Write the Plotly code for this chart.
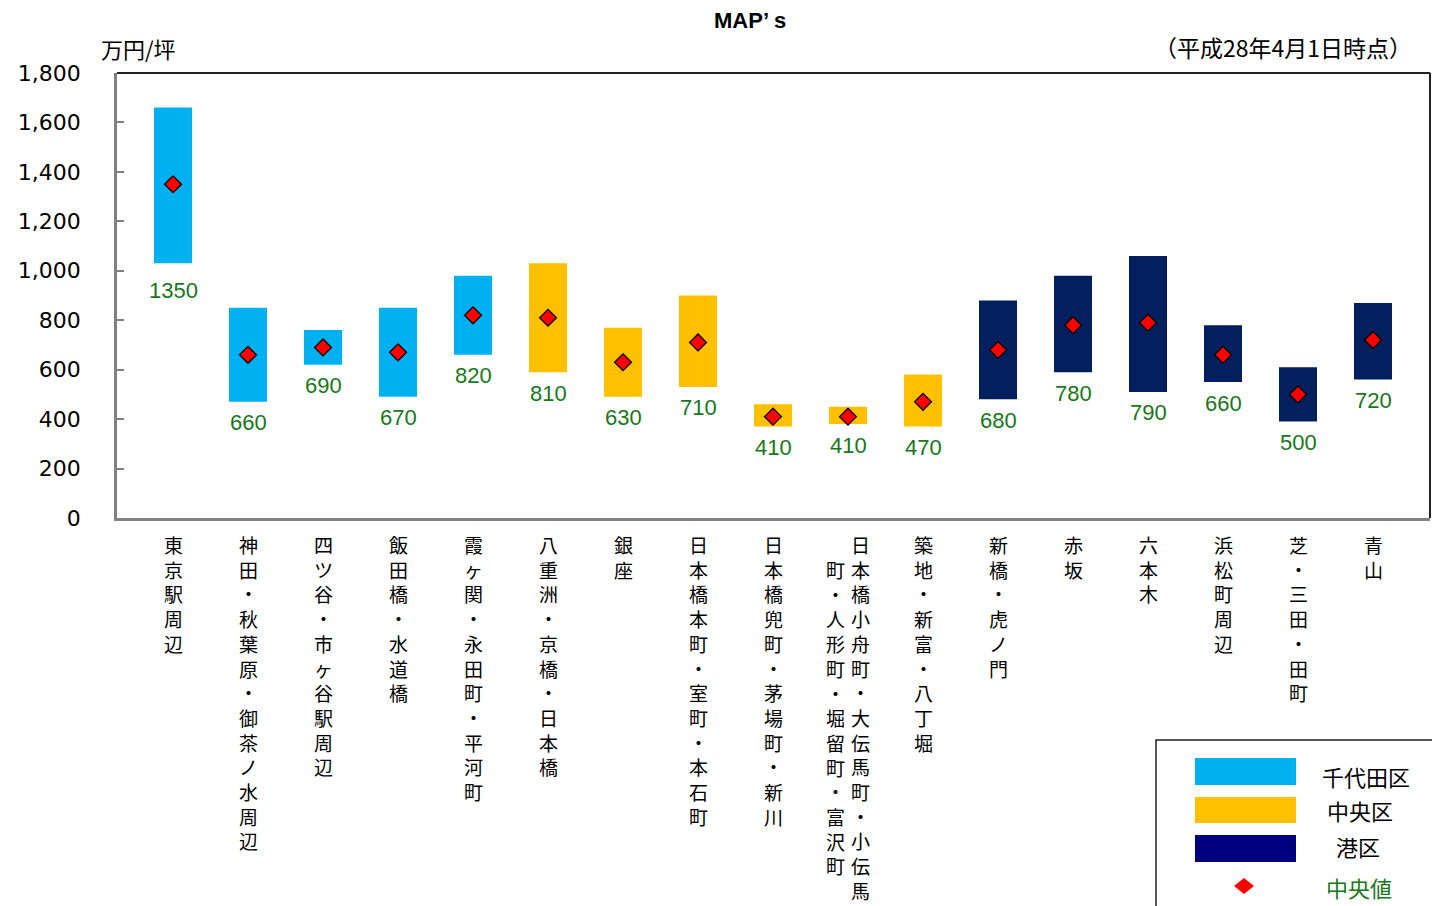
import plotly.graph_objects as go

# ---- data -------------------------------------------------------------
areas = [
    "東京駅周辺", "神田・秋葉原・御茶ノ水周辺", "四ツ谷・市ヶ谷駅周辺", "飯田橋・水道橋",
    "霞ヶ関・永田町・平河町", "八重洲・京橋・日本橋", "銀座", "日本橋本町・室町・本石町",
    "日本橋兜町・茅場町・新川", "日本橋小舟町・大伝馬町・小伝馬町・人形町・堀留町・富沢町",
    "築地・新富・八丁堀", "新橋・虎ノ門", "赤坂", "六本木", "浜松町周辺", "芝・三田・田町", "青山",
]
wards = ["千代田区"] * 5 + ["中央区"] * 6 + ["港区"] * 6
low = [1030, 470, 620, 490, 660, 590, 490, 530, 370, 380, 370, 480, 590, 510, 550, 390, 560]
high = [1660, 850, 760, 850, 980, 1030, 770, 900, 460, 450, 580, 880, 980, 1060, 780, 610, 870]
median = [1350, 660, 690, 670, 820, 810, 630, 710, 410, 410, 470, 680, 780, 790, 660, 500, 720]

ward_names = ["千代田区", "中央区", "港区"]
ward_colors = {"千代田区": "#00B0F0", "中央区": "#FFC000", "港区": "#031F5E"}
legend_colors = {"千代田区": "#00B0F0", "中央区": "#FFC000", "港区": "#000080"}
median_label = "中央値"
y_ticks = list(range(0, 1801, 200))

title_text = "MAP’s"
unit_text = "万円/坪"
date_text = "（平成28年4月1日時点）"

# ---- figure geometry (px) --------------------------------------------
W, H = 1432, 906
L, T, R, B = 117, 73, 2, 388
PW, PH = W - L - R, H - T - B

JP = "Noto Sans CJK JP"
xs = list(range(len(areas)))

fig = go.Figure()

# floating range bars, one trace per ward
for w in ward_names:
    idx = [i for i, ww in enumerate(wards) if ww == w]
    fig.add_trace(go.Bar(
        x=[xs[i] for i in idx],
        y=[high[i] - low[i] for i in idx],
        base=[low[i] for i in idx],
        marker=dict(color=ward_colors[w], line=dict(width=0)),
        width=0.507,
        name=w,
        showlegend=False,
        hoverinfo="skip",
    ))

# median markers
fig.add_trace(go.Scatter(
    x=xs, y=median, mode="markers",
    marker=dict(symbol="diamond", size=13, color="#FF0000",
                line=dict(color="#000000", width=1.3)),
    name=median_label, showlegend=False, hoverinfo="skip",
))

annotations = []

# median value labels under each bar
for i in xs:
    annotations.append(dict(
        x=xs[i], y=low[i], xref="x", yref="y", text=str(median[i]),
        showarrow=False, yanchor="middle", xanchor="center",
        yshift=-27 if i == 0 else -21,
        font=dict(family="Liberation Sans, Arial", size=22, color="#17781A"),
    ))

# vertical category labels (columns right to left, centred vertically when wrapped)
MAX_ROWS = 15
ROW = 24.6
COL = 25
for i, name in enumerate(areas):
    cols = [name[k:k + MAX_ROWS] for k in range(0, len(name), MAX_ROWS)]
    n = len(cols)
    longest = max(len(c) for c in cols)
    for c, chunk in enumerate(cols):
        offset_x = ((n - 1) / 2 - c) * COL
        offset_rows = (longest - len(chunk)) / 2
        annotations.append(dict(
            x=xs[i], y=0, xref="x", yref="paper",
            text="<br>".join(chunk), showarrow=False,
            xanchor="center", yanchor="top",
            xshift=offset_x, yshift=-11 - offset_rows * ROW,
            align="center",
            font=dict(family=JP, size=19, color="#000000"),
        ))

def px_x(p):
    return (p - L) / PW

def px_y(p):
    return (H - B - p) / PH

# title and header texts
annotations.append(dict(x=px_x(750), y=px_y(20), xref="paper", yref="paper",
                        text="<b>" + title_text.replace("’", "’ ") + "</b>", showarrow=False,
                        xanchor="center", yanchor="middle",
                        font=dict(family="Liberation Sans, Arial", size=22, color="#000")))
annotations.append(dict(x=px_x(99), y=px_y(48), xref="paper", yref="paper",
                        text=unit_text, showarrow=False,
                        xanchor="left", yanchor="middle",
                        font=dict(family=JP, size=22, color="#000")))
annotations.append(dict(x=px_x(1414), y=px_y(47), xref="paper", yref="paper",
                        text=date_text, showarrow=False,
                        xanchor="right", yanchor="middle",
                        font=dict(family=JP, size=23, color="#000")))

shapes = []
# top and right frame of the plot area
shapes.append(dict(type="line", xref="paper", yref="paper", x0=0, x1=1, y0=1, y1=1,
                   line=dict(color="#222222", width=2)))
shapes.append(dict(type="line", xref="paper", yref="paper", x0=1, x1=1, y0=0, y1=1,
                   line=dict(color="#222222", width=2)))

# legend box
shapes.append(dict(type="rect", xref="paper", yref="paper",
                   x0=px_x(1156), x1=px_x(1445), y0=px_y(740), y1=px_y(915),
                   line=dict(color="#222222", width=1.5), fillcolor="#FFFFFF"))
sw_rows = [(758, 785, 776), (797, 823, 810), (835, 862, 846)]
text_cx = [1366, 1360, 1358]
for w, (y0, y1, ty), cx in zip(ward_names, sw_rows, text_cx):
    shapes.append(dict(type="rect", xref="paper", yref="paper",
                       x0=px_x(1195), x1=px_x(1296), y0=px_y(y1), y1=px_y(y0),
                       line=dict(width=0), fillcolor=legend_colors[w]))
    annotations.append(dict(x=px_x(cx), y=px_y(ty), xref="paper", yref="paper",
                            text=w, showarrow=False, xanchor="center", yanchor="middle",
                            font=dict(family=JP, size=22, color="#000")))
# legend diamond
dx, dy, r = 1244, 886, 10
path = "M {} {} L {} {} L {} {} L {} {} Z".format(
    px_x(dx), px_y(dy - r + 2), px_x(dx + r), px_y(dy),
    px_x(dx), px_y(dy + r - 2), px_x(dx - r), px_y(dy))
shapes.append(dict(type="path", xref="paper", yref="paper", path=path,
                   fillcolor="#FF0000", line=dict(width=0)))
annotations.append(dict(x=px_x(1359), y=px_y(887), xref="paper", yref="paper",
                        text=median_label, showarrow=False, xanchor="center", yanchor="middle",
                        font=dict(family=JP, size=22, color="#17781A")))

fig.update_layout(
    width=W, height=H, autosize=False,
    margin=dict(l=L, r=R, t=T, b=B, pad=0),
    paper_bgcolor="#FFFFFF", plot_bgcolor="#FFFFFF",
    barmode="overlay",
    showlegend=False,
    annotations=annotations,
    shapes=shapes,
    xaxis=dict(
        range=[-0.747, len(areas) - 1 + 0.76],
        showticklabels=False, ticks="", showgrid=False, zeroline=False,
        showline=True, linecolor="#808080", linewidth=2.5,
        fixedrange=True,
    ),
    yaxis=dict(
        range=[0, 1800], tickvals=y_ticks,
        tickformat=",d", ticks="inside", ticklen=7, tickwidth=2, tickcolor="#808080",
        showgrid=False, zeroline=False,
        showline=True, linecolor="#808080", linewidth=2.5,
        ticklabelstandoff=29,
        tickfont=dict(family="DejaVu Sans", size=22, color="#000"),
        fixedrange=True,
    ),
)

fig.write_html("out.html", config={"displayModeBar": False})
